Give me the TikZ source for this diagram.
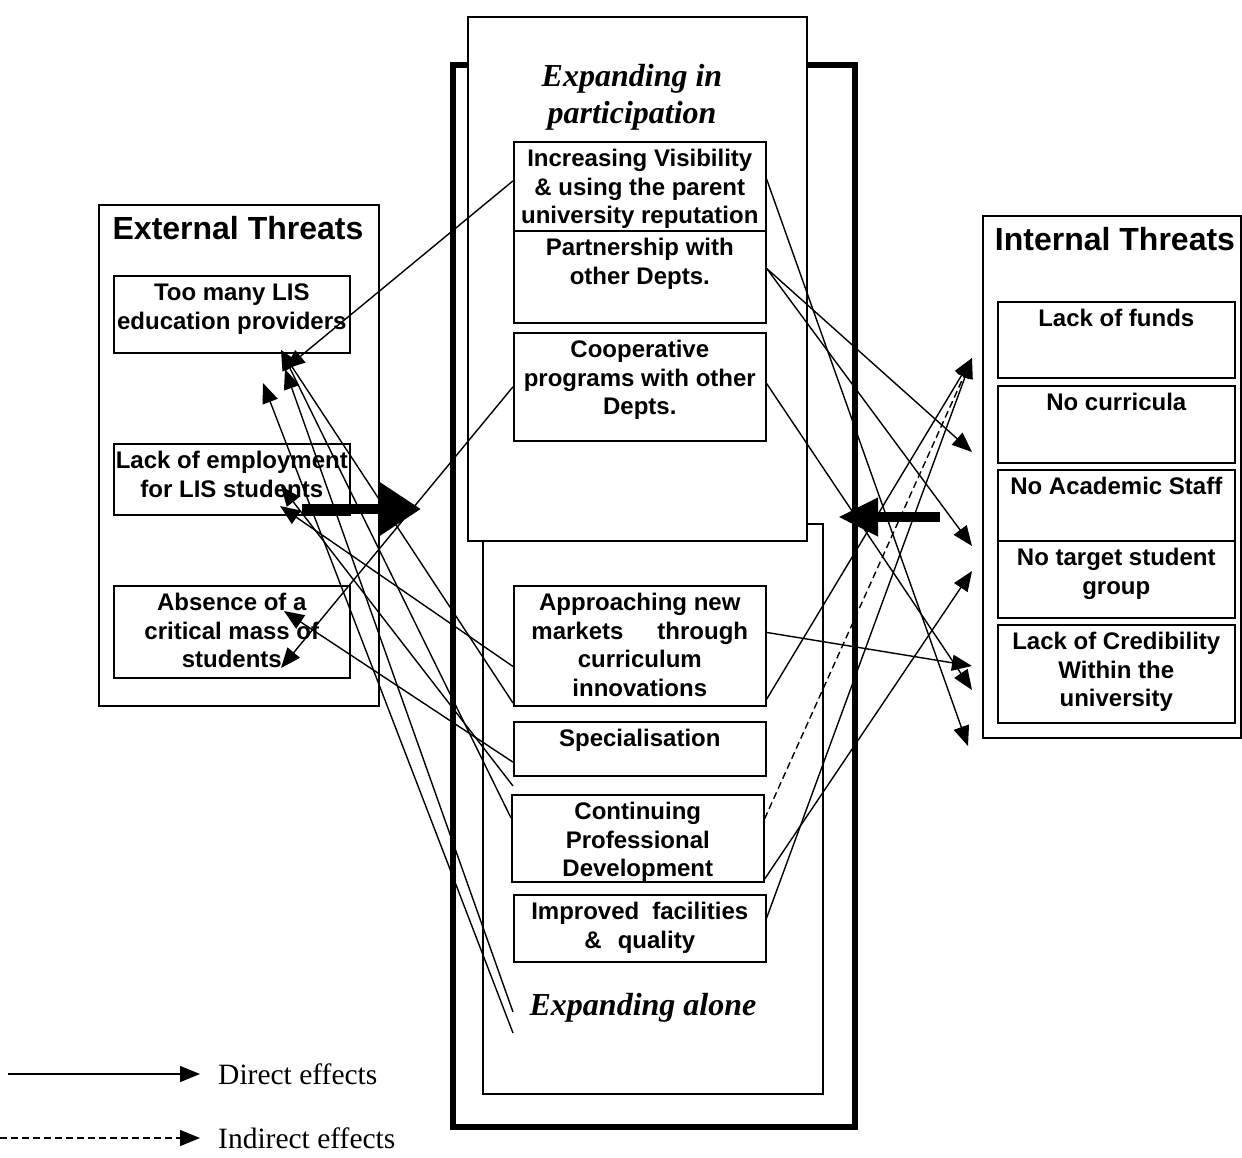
\documentclass[tikz,border=0pt]{standalone}
\usepackage{fontspec}
\setmainfont{Liberation Serif}
\setsansfont{Liberation Sans}
\usetikzlibrary{arrows.meta,calc,positioning}

\newcommand{\boxfont}{\sffamily\bfseries\fontsize{24}{28.5}\selectfont}
\newcommand{\headfont}{\sffamily\bfseries\fontsize{32}{37}\selectfont}
\newcommand{\partfont}{\rmfamily\bfseries\itshape\fontsize{32}{37}\selectfont}
\newcommand{\keyfont}{\rmfamily\fontsize{29.5}{34}\selectfont}
\newcommand{\bx}[3]{\parbox[t][#2pt][t]{#1pt}{\centering\vspace*{5pt}\strut#3}}

\tikzstyle{threat}=[draw,line width=1.6pt,inner sep=0pt,anchor=north west,font=\boxfont]

\begin{document}
\begin{tikzpicture}[
  x=1pt, y=-1pt,
  frame/.style={draw, line width=1.8pt, inner sep=0pt, anchor=north west},
  effect/.style={line width=1.4pt, -{Triangle[length=20pt,width=16pt]}},
  weak/.style={effect, dash pattern=on 7pt off 4pt},
  push/.style={line width=10pt, -{Triangle[length=42pt,width=52pt]}},
  heading/.style={font=\headfont, inner sep=0pt},
  keytext/.style={font=\keyfont, inner sep=0pt}
]
\useasboundingbox (0,0) rectangle (1242,1157);

% external threats
\node[frame, minimum width=280pt, minimum height=501pt] (ext) at (98,204) {};
\node[heading] (extt) at (238,228) {External Threats};
\node[threat] (many) at (113,275) {\bx{236}{77}{Too many LIS\\education providers}};
\node[threat] (lackemp) at (113,443) {\bx{236}{71}{Lack of employment\\for LIS students}};
\node[threat] (absence) at (113,585) {\bx{236}{92}{Absence of a\\critical mass of\\students}};

% internal threats
\node[frame, minimum width=258pt, minimum height=522pt] (int) at (982,215) {};
\node[heading] (intt) at (1115,239) {Internal Threats};
\node[threat] (funds) at (997,301) {\bx{237}{76}{Lack of funds}};
\node[threat] (curric) at (997,385) {\bx{237}{77}{No curricula}};
\node[threat] (staff) at (997,469) {\bx{237}{71}{No Academic Staff}};
\node[threat] (target) at (997,540) {\bx{237}{77}{No target student\\group}};
\node[threat] (cred) at (997,624) {\bx{237}{98}{Lack of Credibility\\Within the\\university}};

% strategies
\node[frame, line width=6pt, minimum width=402pt, minimum height=1062pt] (mid) at (450,62) {};
\node[frame, line width=2pt, minimum width=340pt, minimum height=570pt] (alone) at (482,523) {};
\node[frame, line width=2pt, fill=white, minimum width=339pt, minimum height=524pt] (inpart) at (467,16) {};
\node[font=\partfont, align=center, inner sep=0pt] (inpartt) at (632,97) {Expanding in\\participation};
\node[font=\partfont, inner sep=0pt] (alonet) at (643,1008) {Expanding alone};

\node[threat] (vis) at (513,141) {\bx{252}{89}{Increasing Visibility\\\& using the parent\\university reputation}};
\node[threat] (partn) at (513,230) {\bx{252}{92}{Partnership with\\other Depts.}};
\node[threat] (coop) at (513,332) {\bx{252}{108}{Cooperative\\programs with other\\Depts.}};
\node[threat] (appr) at (513,585) {\bx{252}{120}{Approaching new\\markets\hspace{34pt}through\\curriculum\\innovations}};
\node[threat] (spec) at (513,721) {\bx{252}{54}{Specialisation}};
\node[threat] (cpd) at (511,794) {\bx{252}{87}{Continuing\\Professional\\Development}};
\node[threat] (impr) at (513,894) {\bx{252}{67}{Improved\hspace{13pt}facilities\\\&\hspace{16pt}quality}};

% free ends
\coordinate (m1) at (281,350);
\coordinate (m2) at (285,369);
\coordinate (m3) at (263,383);
\coordinate (e1) at (281,486);
\coordinate (e2) at (280,506);
\coordinate (a1) at (284,611);
\coordinate (a2) at (281,668);
\coordinate (gap) at (513,786);
\coordinate (low1) at (513,1012);
\coordinate (low2) at (513,1033);
\coordinate (f1) at (972,358);
\coordinate (c1) at (972,452);
\coordinate (s1) at (972,546);
\coordinate (t1) at (972,571);
\coordinate (r1) at (972,666);
\coordinate (r2) at (972,690);
\coordinate (r3) at (968,746);

% effects on external threats
\draw[effect] ($(vis.north west)!.44!(vis.south west)$) -- (m2);
\draw[effect] (coop.west) -- (a2);
\draw[effect] ($(appr.north west)!.67!(appr.south west)$) -- (e2);
\draw[effect] ($(appr.north west)!.97!(appr.south west)$) -- (m1);
\draw[effect] ($(spec.north west)!.74!(spec.south west)$) -- (a1);
\draw[effect] (gap) -- (e1);
\draw[effect] ($(cpd.north west)!.27!(cpd.south west)$) -- (m1);
\draw[effect] (low1) -- (m2);
\draw[effect] (low2) -- (m3);

% effects on internal threats
\draw[effect] ($(vis.north east)!.42!(vis.south east)$) -- (r3);
\draw[effect] ($(partn.north east)!.41!(partn.south east)$) -- (c1);
\draw[effect] ($(partn.north east)!.41!(partn.south east)$) -- (s1);
\draw[effect] ($(coop.north east)!.47!(coop.south east)$) -- (r2);
\draw[effect] ($(appr.north east)!.39!(appr.south east)$) -- (r1);
\draw[effect] ($(appr.north east)!.94!(appr.south east)$) -- (f1);
\draw[weak] ($(cpd.north east)!.28!(cpd.south east)$) -- (f1);
\draw[effect] ($(cpd.north east)!.96!(cpd.south east)$) -- (t1);
\draw[effect] ($(impr.north east)!.35!(impr.south east)$) -- (f1);

% pressure from both sides
\coordinate (bar1) at (302,509);
\coordinate (bar1e) at (421,509);
\coordinate (bar2) at (940,517);
\coordinate (bar2e) at (838,517);
\draw[push] (bar1) -- (bar1e);
\draw[push, -{Triangle[length=40pt,width=36pt]}] (bar2) -- (bar2e);

% key
\coordinate (k1) at (8,1074);
\coordinate (k1e) at (200,1074);
\draw[effect] (k1) -- (k1e);
\node[keytext, right=18pt of k1e] (direct) {Direct effects};
\coordinate (k2) at (0,1138);
\coordinate (k2e) at (200,1138);
\draw[weak] (k2) -- (k2e);
\node[keytext, right=18pt of k2e] (indirect) {Indirect effects};
\end{tikzpicture}
\end{document}
